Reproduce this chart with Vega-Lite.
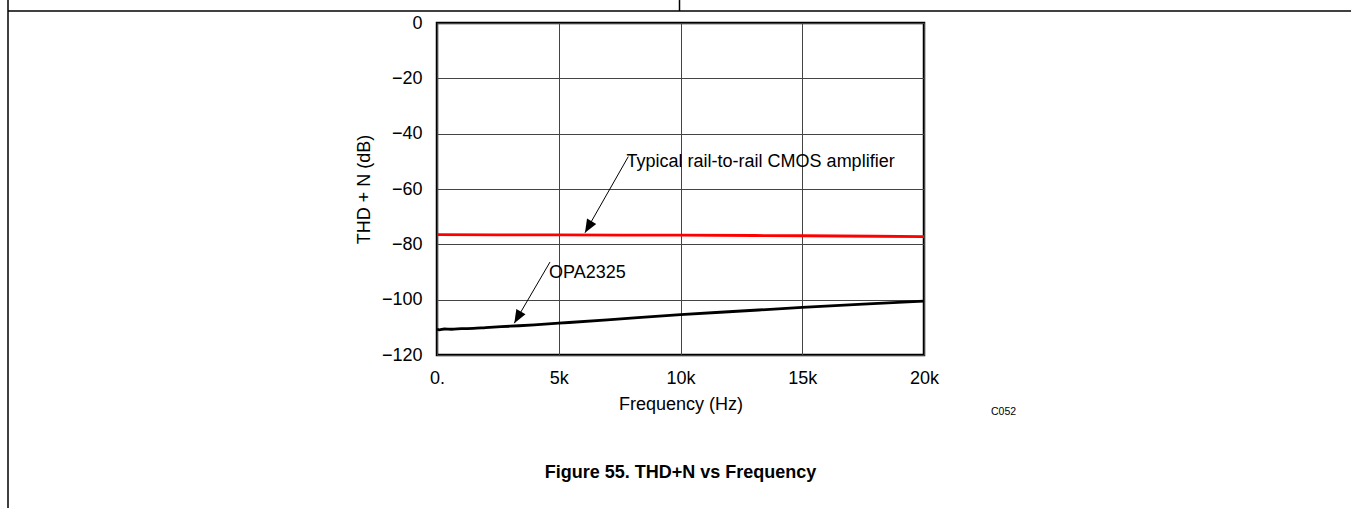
{
  "$schema": "https://vega.github.io/schema/vega-lite/v6.json",
  "width": 487,
  "height": 332,
  "autosize": {"type": "none"},
  "padding": {"left": 437, "top": 23, "right": 427, "bottom": 153},
  "background": "white",
  "config": {
    "font": "Liberation Sans",
    "view": {"stroke": "black", "strokeWidth": 2.5},
    "axis": {
      "labelFont": "Liberation Sans",
      "titleFont": "Liberation Sans",
      "labelFontSize": 18,
      "titleFontSize": 18,
      "titleFontWeight": "normal",
      "labelColor": "black",
      "titleColor": "black",
      "domain": false,
      "ticks": false,
      "tickSize": 0,
      "grid": true,
      "gridColor": "#444444",
      "gridWidth": 1,
      "gridOpacity": 1,
      "labelFlush": false,
      "labelBound": false
    }
  },
  "datasets": {
    "curves": [
      {"series": "CMOS", "freq": 0, "db": -76.5},
      {"series": "CMOS", "freq": 5000, "db": -76.6},
      {"series": "CMOS", "freq": 10000, "db": -76.7},
      {"series": "CMOS", "freq": 15000, "db": -76.9},
      {"series": "CMOS", "freq": 20000, "db": -77.2},
      {"series": "OPA2325", "freq": 0, "db": -110.7},
      {"series": "OPA2325", "freq": 100, "db": -110.9},
      {"series": "OPA2325", "freq": 300, "db": -110.6},
      {"series": "OPA2325", "freq": 600, "db": -110.7},
      {"series": "OPA2325", "freq": 1000, "db": -110.5},
      {"series": "OPA2325", "freq": 1500, "db": -110.4},
      {"series": "OPA2325", "freq": 2000, "db": -110.1},
      {"series": "OPA2325", "freq": 3000, "db": -109.6},
      {"series": "OPA2325", "freq": 4000, "db": -109.1},
      {"series": "OPA2325", "freq": 5000, "db": -108.5},
      {"series": "OPA2325", "freq": 7000, "db": -107.3},
      {"series": "OPA2325", "freq": 10000, "db": -105.4},
      {"series": "OPA2325", "freq": 12500, "db": -104.1},
      {"series": "OPA2325", "freq": 15000, "db": -102.8},
      {"series": "OPA2325", "freq": 17500, "db": -101.6},
      {"series": "OPA2325", "freq": 20000, "db": -100.5}
    ],
    "arrows": [
      {"freq": 4641, "db": -86.4, "freq2": 3175, "db2": -108.5},
      {"freq": 7856, "db": -48.3, "freq2": 6078, "db2": -75.8}
    ],
    "heads": [
      {"freq": 3175, "db": -108.5},
      {"freq": 6078, "db": -75.8}
    ],
    "notes": [
      {"freq": 4600, "db": -92.2, "label": "OPA2325"},
      {"freq": 7786, "db": -52.2, "label": "Typical rail-to-rail CMOS amplifier"}
    ],
    "code": [
      {"freq": 22752, "db": -141.7, "label": "C052"}
    ],
    "caption": [
      {"freq": 10000, "db": -164.5, "label": "Figure 55. THD+N vs Frequency"}
    ],
    "frame": [
      {"freq": -17618, "db": 4.34, "freq2": 40000, "db2": 4.34},
      {"freq": -17618, "db": 8.3, "freq2": -17618, "db2": -175.3},
      {"freq": 9959, "db": 8.3, "freq2": 9959, "db2": 4.34}
    ]
  },
  "layer": [
    {
      "data": {"name": "curves"},
      "mark": {"type": "line", "strokeWidth": 2.8, "interpolate": "monotone"},
      "encoding": {
        "x": {
          "field": "freq", "type": "quantitative",
          "scale": {"domain": [0, 20000], "nice": false, "zero": false},
          "axis": {
            "title": "Frequency (Hz)",
            "values": [0, 5000, 10000, 15000, 20000],
            "labelExpr": "datum.value == 0 ? '0.' : (datum.value / 1000) + 'k'",
            "labelPadding": 14,
            "titlePadding": 8
          }
        },
        "y": {
          "field": "db", "type": "quantitative",
          "scale": {"domain": [-120, 0], "nice": false, "zero": false},
          "axis": {
            "title": "THD + N (dB)",
            "values": [-120, -100, -80, -60, -40, -20, 0],
            "labelPadding": 15,
            "titlePadding": 8
          }
        },
        "color": {
          "field": "series", "type": "nominal",
          "scale": {"domain": ["OPA2325", "CMOS"], "range": ["black", "#ff0000"]},
          "legend": null
        }
      }
    },
    {
      "data": {"name": "arrows"},
      "mark": {"type": "rule", "color": "black", "strokeWidth": 1},
      "encoding": {
        "x": {"field": "freq", "type": "quantitative", "scale": {"domain": [0, 20000], "nice": false, "zero": false}},
        "y": {"field": "db", "type": "quantitative", "scale": {"domain": [-120, 0], "nice": false, "zero": false}},
        "x2": {"field": "freq2"},
        "y2": {"field": "db2"}
      }
    },
    {
      "data": {"name": "heads"},
      "mark": {"type": "point", "shape": "M0,0L-0.4,1L0.4,1Z", "filled": true, "color": "black", "opacity": 1, "size": 700, "angle": 210, "strokeWidth": 0},
      "encoding": {
        "x": {"field": "freq", "type": "quantitative", "scale": {"domain": [0, 20000], "nice": false, "zero": false}},
        "y": {"field": "db", "type": "quantitative", "scale": {"domain": [-120, 0], "nice": false, "zero": false}}
      }
    },
    {
      "data": {"name": "notes"},
      "mark": {"type": "text", "align": "left", "baseline": "alphabetic", "fontSize": 18, "font": "Liberation Sans", "color": "black"},
      "encoding": {
        "x": {"field": "freq", "type": "quantitative", "scale": {"domain": [0, 20000], "nice": false, "zero": false}},
        "y": {"field": "db", "type": "quantitative", "scale": {"domain": [-120, 0], "nice": false, "zero": false}},
        "text": {"field": "label"}
      }
    },
    {
      "data": {"name": "code"},
      "mark": {"type": "text", "align": "left", "baseline": "alphabetic", "fontSize": 10.5, "font": "Liberation Sans", "color": "black"},
      "encoding": {
        "x": {"field": "freq", "type": "quantitative", "scale": {"domain": [0, 20000], "nice": false, "zero": false}},
        "y": {"field": "db", "type": "quantitative", "scale": {"domain": [-120, 0], "nice": false, "zero": false}},
        "text": {"field": "label"}
      }
    },
    {
      "data": {"name": "caption"},
      "mark": {"type": "text", "align": "center", "baseline": "alphabetic", "fontSize": 18, "fontWeight": "bold", "font": "Liberation Sans", "color": "black"},
      "encoding": {
        "x": {"field": "freq", "type": "quantitative", "scale": {"domain": [0, 20000], "nice": false, "zero": false}},
        "y": {"field": "db", "type": "quantitative", "scale": {"domain": [-120, 0], "nice": false, "zero": false}},
        "text": {"field": "label"}
      }
    },
    {
      "data": {"name": "frame"},
      "mark": {"type": "rule", "color": "black", "strokeWidth": 1.5},
      "encoding": {
        "x": {"field": "freq", "type": "quantitative", "scale": {"domain": [0, 20000], "nice": false, "zero": false}},
        "y": {"field": "db", "type": "quantitative", "scale": {"domain": [-120, 0], "nice": false, "zero": false}},
        "x2": {"field": "freq2"},
        "y2": {"field": "db2"}
      }
    }
  ]
}
